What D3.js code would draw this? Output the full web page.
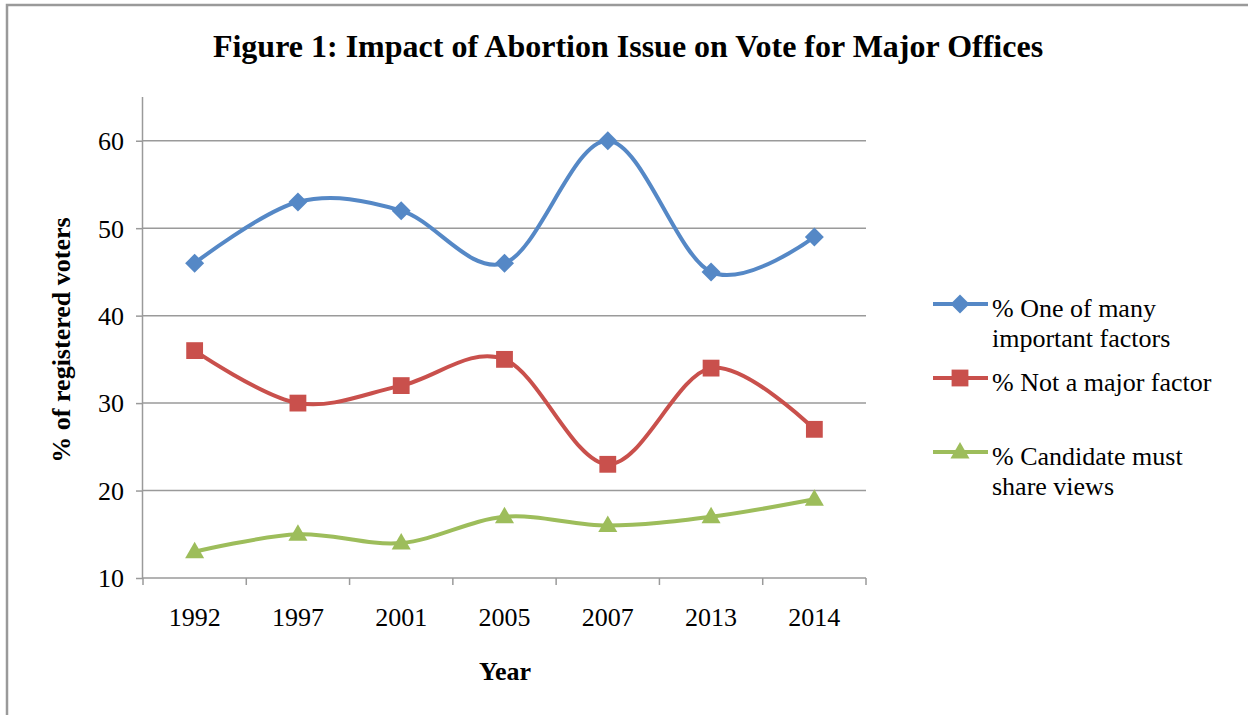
<!DOCTYPE html>
<html><head><meta charset="utf-8">
<script src="https://cdn.jsdelivr.net/npm/d3@7"></script>
<style>
html,body{margin:0;padding:0;background:#fff;}
svg{display:block;}
text{font-family:"Liberation Serif","Times New Roman",serif;fill:#000;}
</style></head>
<body>
<svg id="c" width="1248" height="715"></svg>
<script>
const years = ["1992","1997","2001","2005","2007","2013","2014"];
const oneOfMany = [46,53,52,46,60,45,49];
const notMajor = [36,30,32,35,23,34,27];
const mustShare = [13,15,14,17,16,17,19];
const yTicks = [10,20,30,40,50,60];
const seriesNames = [["% One of many","important factors"],["% Not a major factor"],["% Candidate must","share views"]];
const colors = ["#5588c6","#c9504c","#9dbd5b"];
const markers = ["diamond","square","triangle"];

const svg = d3.select("#c");
// outer border
svg.append("path").attr("d","M7,715 L7,5 L1260,5").attr("fill","none").attr("stroke","#9a9a9a").attr("stroke-width",2.5);

const L = 143, R = 866, T = 97, B = 578;
const x = d3.scaleBand().domain(years).range([L,R]).padding(0);
const y = d3.scaleLinear().domain([10,65]).range([B,T]);

// gridlines
svg.append("g").selectAll("line").data(yTicks.filter(d=>d>10)).join("line")
  .attr("x1",L).attr("x2",R).attr("y1",d=>y(d)).attr("y2",d=>y(d))
  .attr("stroke","#9a9a9a").attr("stroke-width",1.5);

// y axis
const yAxis = svg.append("g").attr("transform",`translate(${L},0)`)
  .call(d3.axisLeft(y).tickValues(yTicks).tickSize(7).tickPadding(12).tickFormat(d3.format("d")));
yAxis.select(".domain").attr("stroke","#9a9a9a").attr("stroke-width",1.5).attr("d",`M-0.5,${T}V${B}`);
yAxis.selectAll(".tick line").attr("stroke","#9a9a9a").attr("stroke-width",1.5);
yAxis.selectAll(".tick text").attr("font-size",26).attr("font-family","Liberation Serif").attr("fill","#000").attr("dy","0.34em");

// x axis
const xAxis = svg.append("g").attr("transform",`translate(0,${B})`)
  .call(d3.axisBottom(x).tickSize(0).tickPadding(30));
xAxis.select(".domain").attr("stroke","#9a9a9a").attr("stroke-width",1.5).attr("d",`M${L},0H${R}`);
xAxis.selectAll(".tick text").attr("font-size",26).attr("font-family","Liberation Serif").attr("fill","#000").attr("dy","0.71em");
const bounds = years.map(d=>x(d)).concat([R]);
xAxis.append("g").selectAll("line").data(bounds).join("line")
  .attr("x1",d=>d).attr("x2",d=>d).attr("y1",0).attr("y2",7)
  .attr("stroke","#9a9a9a").attr("stroke-width",1.5);

// title & axis titles
svg.append("text").attr("x",628).attr("y",57).attr("text-anchor","middle")
  .attr("font-size",32).attr("font-weight","bold").text("Figure 1: Impact of Abortion Issue on Vote for Major Offices");
svg.append("text").attr("x",505).attr("y",680).attr("text-anchor","middle")
  .attr("font-size",26).attr("font-weight","bold").text("Year");
svg.append("text").attr("transform","translate(70,340) rotate(-90)").attr("text-anchor","middle")
  .attr("font-size",26).attr("font-weight","bold").text("% of registered voters");

const sym = {
  diamond: d3.symbol().type(d3.symbolDiamond2).size(230),
  square: d3.symbol().type(d3.symbolSquare2).size(360),
  triangle: d3.symbol().type(d3.symbolTriangle2).size(260)
};
const line = d3.line().x((d,i)=>x(years[i])+x.bandwidth()/2).y(d=>y(d)).curve(d3.curveCardinal.tension(0));
const allSeries = [oneOfMany, notMajor, mustShare];
allSeries.forEach((vals,si)=>{
  svg.append("path").datum(vals).attr("d",line).attr("fill","none")
    .attr("stroke",colors[si]).attr("stroke-width",4).attr("stroke-linejoin","round");
  svg.append("g").selectAll("path").data(vals).join("path")
    .attr("transform",(d,i)=>`translate(${x(years[i])+x.bandwidth()/2},${y(d)+(markers[si]==="triangle"?1:0)})`)
    .attr("d",sym[markers[si]]).attr("fill",colors[si]);
});

// legend
const legY = [304,378,452];
const legText = [[317,347],[391],[465,495]];
seriesNames.forEach((names,si)=>{
  const g = svg.append("g");
  g.append("line").attr("x1",933).attr("x2",988).attr("y1",legY[si]).attr("y2",legY[si])
    .attr("stroke",colors[si]).attr("stroke-width",4);
  g.append("path").attr("transform",`translate(960,${legY[si]+(markers[si]==="triangle"?1:0)})`).attr("d",sym[markers[si]]).attr("fill",colors[si]);
  names.forEach((t,k)=>{
    g.append("text").attr("x",992).attr("y",legText[si][k]).attr("font-size",26).text(t);
  });
});
</script>
</body></html>
